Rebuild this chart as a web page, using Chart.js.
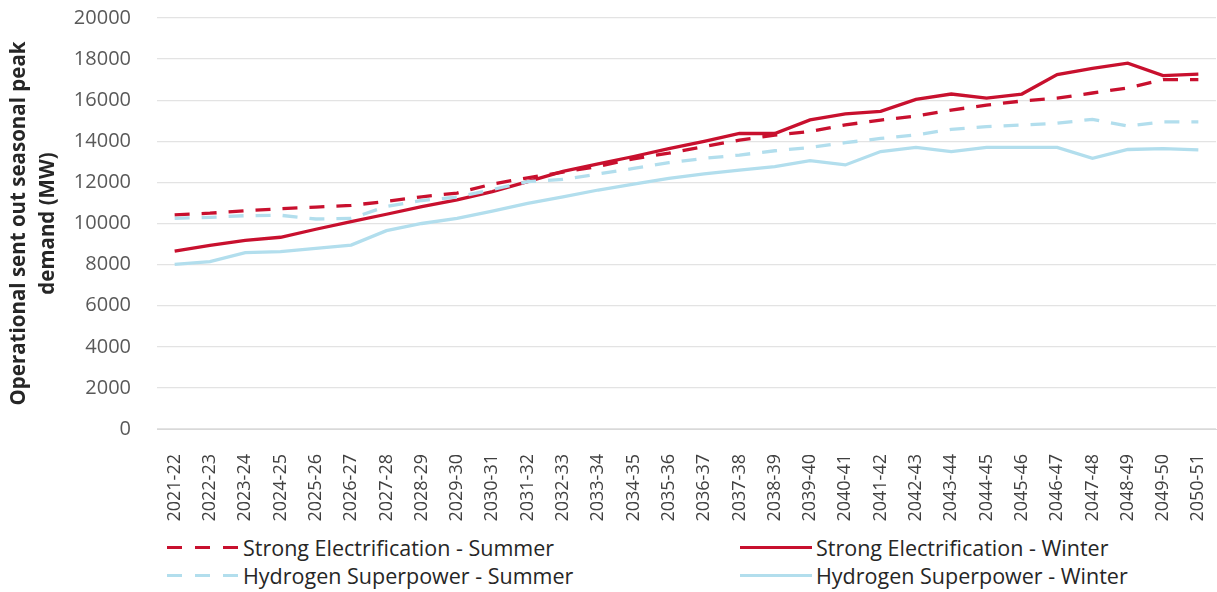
<!DOCTYPE html>
<html>
<head>
<meta charset="utf-8">
<script src="https://cdn.jsdelivr.net/npm/chart.js@4/dist/chart.umd.min.js"></script>
<style>
  body { margin: 0; background: #fff; font-family: "Open Sans", sans-serif; }
  #wrap { position: relative; width: 1217px; height: 528px; }
  #legend { position: absolute; left: 0; top: 533px; width: 1217px; height: 59px; }
  .item { position: absolute; display: flex; align-items: center; font-size: 21.5px; color: #262626; white-space: nowrap; }
  .sample { width: 72px; height: 0; margin-right: 4px; }
</style>
</head>
<body>
<div id="wrap"><canvas id="chart"></canvas></div>
<div id="legend"></div>
<script>
// Financial years on the x axis
const years = ['2021-22','2022-23','2023-24','2024-25','2025-26','2026-27','2027-28','2028-29','2029-30','2030-31',
  '2031-32','2032-33','2033-34','2034-35','2035-36','2036-37','2037-38','2038-39','2039-40','2040-41',
  '2041-42','2042-43','2043-44','2044-45','2045-46','2046-47','2047-48','2048-49','2049-50','2050-51'];

// Operational sent out seasonal peak demand (MW)
const strongSummer = [10420, 10500, 10620, 10720, 10800, 10880, 11080, 11300, 11480, 11920,
  12220, 12500, 12780, 13150, 13420, 13740, 14060, 14300, 14480, 14800,
  15030, 15230, 15520, 15760, 15960, 16100, 16350, 16600, 17000, 17000];
const strongWinter = [8660, 8940, 9180, 9330, 9720, 10090, 10450, 10820, 11150, 11550,
  12040, 12540, 12900, 13260, 13640, 14000, 14380, 14380, 15040, 15330,
  15460, 16040, 16300, 16100, 16300, 17250, 17550, 17800, 17200, 17270];
const hydroSummer = [10250, 10300, 10380, 10400, 10220, 10250, 10830, 11120, 11280, 11650,
  12040, 12150, 12410, 12680, 12960, 13170, 13330, 13540, 13700, 13930,
  14140, 14310, 14580, 14710, 14790, 14880, 15070, 14740, 14950, 14950];
const hydroWinter = [8010, 8140, 8580, 8630, 8790, 8950, 9650, 10000, 10250, 10600,
  10980, 11300, 11630, 11920, 12200, 12410, 12600, 12770, 13060, 12850,
  13500, 13700, 13500, 13700, 13700, 13700, 13170, 13600, 13640, 13580];

const yTicks = [0, 2000, 4000, 6000, 8000, 10000, 12000, 14000, 16000, 18000, 20000];

const RED = '#C8102E';
const BLUE = '#B2DEED';

const series = [
  { label: 'Strong Electrification - Summer', data: strongSummer, color: RED, dash: [15, 12] },
  { label: 'Strong Electrification - Winter', data: strongWinter, color: RED, dash: [] },
  { label: 'Hydrogen Superpower - Summer', data: hydroSummer, color: BLUE, dash: [15, 12] },
  { label: 'Hydrogen Superpower - Winter', data: hydroWinter, color: BLUE, dash: [] }
];

Chart.defaults.font.family = '"Open Sans", sans-serif';
Chart.defaults.color = '#595959';

// draw order: blues underneath the reds
const drawOrder = [3, 2, 1, 0];

new Chart(document.getElementById('chart'), {
  type: 'line',
  data: {
    labels: years,
    datasets: drawOrder.map(i => ({
      label: series[i].label,
      data: series[i].data,
      borderColor: series[i].color,
      backgroundColor: series[i].color,
      borderWidth: 3.3,
      borderDash: series[i].dash,
      pointRadius: 0,
      tension: 0,
      fill: false
    }))
  },
  options: {
    responsive: true,
    maintainAspectRatio: false,
    animation: false,
    layout: { padding: { top: 18, right: 1, left: 4, bottom: 0 } },
    scales: {
      x: {
        offset: true,
        grid: { display: false },
        border: { color: '#d9d9d9' },
        ticks: { minRotation: 90, maxRotation: 90, autoSkip: false, padding: 17, font: { size: 18 }, color: '#404040' },
        afterFit: axis => {
          axis.height = 99;
          axis.paddingLeft = 0;
          axis.paddingRight = 0;
          axis.paddingTop = 0;
          axis.paddingBottom = 0;
        }
      },
      y: {
        min: 0,
        max: 20000,
        afterBuildTicks: axis => { axis.ticks = yTicks.map(v => ({ value: v })); },
        grid: { color: '#e3e3e3', lineWidth: 1.3, drawTicks: false },
        border: { display: false },
        ticks: { font: { size: 20 }, color: '#595959', padding: 26, callback: v => String(v) },
        title: {
          display: true,
          text: ['Operational sent out seasonal peak', 'demand (MW)'],
          font: { size: 20.5, weight: 'bold', lineHeight: 1.45 },
          color: '#262626',
          padding: { top: 0, bottom: 0 }
        },
        afterFit: axis => {
          axis.width = 153;
          axis.paddingTop = 0;
          axis.paddingBottom = 0;
        }
      }
    },
    plugins: {
      legend: { display: false },
      tooltip: { enabled: false }
    }
  }
});

// two-column legend under the chart
const legendPos = [
  { left: 167, top: 0 }, { left: 740, top: 0 },
  { left: 167, top: 28 }, { left: 740, top: 28 }
];
const legendEl = document.getElementById('legend');
series.forEach((s, i) => {
  const item = document.createElement('div');
  item.className = 'item';
  item.style.left = legendPos[i].left + 'px';
  item.style.top = legendPos[i].top + 'px';
  const sample = document.createElement('div');
  sample.className = 'sample';
  if (s.dash.length) {
    sample.style.height = '3.5px';
    sample.style.backgroundImage = 'repeating-linear-gradient(to right, ' + s.color + ' 0 15px, transparent 15px 28px)';
  } else {
    sample.style.borderTop = '3.5px solid ' + s.color;
  }
  const text = document.createElement('span');
  text.textContent = s.label;
  item.appendChild(sample);
  item.appendChild(text);
  legendEl.appendChild(item);
});
</script>
</body>
</html>
